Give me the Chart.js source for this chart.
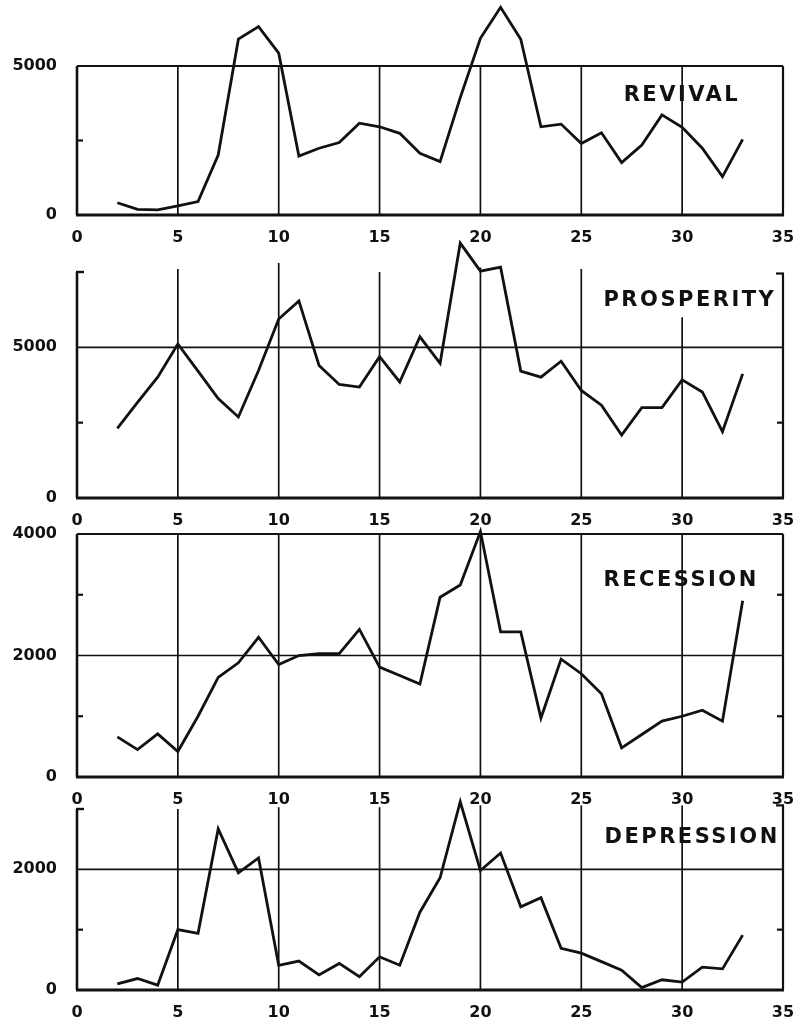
<!DOCTYPE html>
<html>
<head>
<meta charset="utf-8">
<title>Revival, Prosperity, Recession, Depression</title>
<script src="https://cdn.jsdelivr.net/npm/chart.js@4.4.1/dist/chart.umd.min.js"></script>
<style>
  html, body { margin: 0; padding: 0; background: #fff; }
  #wrap { position: relative; width: 799px; height: 1023px; }
  #wrap canvas { position: absolute; left: 0; top: 0; }
</style>
</head>
<body>
<div id="wrap">
  <canvas id="revival" width="799" height="1023"></canvas>
  <canvas id="prosperity" width="799" height="1023"></canvas>
  <canvas id="recession" width="799" height="1023"></canvas>
  <canvas id="depression" width="799" height="1023"></canvas>
</div>
<script>
// x positions of the readings (same for every panel)
const xValues = [2, 3, 4, 5, 6, 7, 8, 9, 10, 11, 12, 13, 14, 15, 16, 17,
                 18, 19, 20, 21, 22, 23, 24, 25, 26, 27, 28, 29, 30, 31, 32, 33];

const revival = [410, 190, 170, 310, 450, 2010, 5900, 6320, 5430, 1980, 2240, 2430, 3080, 2960, 2740, 2070,
                 1790, 3940, 5930, 6970, 5900, 2960, 3050, 2400, 2760, 1760, 2350, 3360, 2940, 2240, 1290, 2540];

const prosperity = [2310, 3170, 4010, 5110, 4210, 3300, 2690, 4230, 5940, 6540, 4400, 3770, 3680, 4690, 3850, 5350,
                    4470, 8460, 7530, 7660, 4210, 4010, 4540, 3570, 3080, 2090, 3000, 3000, 3920, 3520, 2200, 4120];

const recession = [660, 450, 710, 420, 1000, 1640, 1880, 2300, 1850, 2000, 2030, 2030, 2430, 1810, 1670, 1530,
                   2960, 3160, 4040, 2390, 2390, 970, 1940, 1700, 1370, 480, 700, 920, 1000, 1100, 920, 2900];

const depression = [100, 190, 80, 1000, 940, 2670, 1940, 2190, 410, 480, 250, 440, 220, 550, 410, 1290,
                    1860, 3120, 1980, 2270, 1380, 1530, 690, 610, 470, 330, 40, 170, 130, 380, 350, 910];

// tick labels on the y axes
const revivalTicks = [0, 5000];
const prosperityTicks = [0, 5000];
const recessionTicks = [0, 2000, 4000];
const depressionTicks = [0, 2000];

const INK = '#111';
const AREA_LEFT = 77;
const AREA_RIGHT = 783;
const X_AXIS_H = 34;

// Draws the hand-ruled frame, grid and panel title through the chart scales
const framePlugin = {
    id: 'frame',
    beforeDatasetsDraw(chart, args, opts) {
        const { ctx } = chart;
        const xs = chart.scales.x, ys = chart.scales.y;
        const X = v => xs.getPixelForValue(v);
        const Y = v => ys.getPixelForValue(v);
        const yMax = ys.max;
        ctx.save();
        ctx.strokeStyle = INK;
        ctx.lineCap = 'butt';

        const line = (x1, y1, x2, y2, w) => {
            ctx.lineWidth = w;
            ctx.beginPath();
            ctx.moveTo(x1, y1);
            ctx.lineTo(x2, y2);
            ctx.stroke();
        };

        // vertical rulings
        (opts.vlines || []).forEach(([xv, top]) => line(X(xv), Y(0), X(xv), Y(top), 1.7));
        // horizontal rulings
        (opts.hlines || []).forEach(yv => line(X(0), Y(yv), X(35), Y(yv), 1.7));

        // frame
        line(X(0) - 1, Y(0), X(35) + 1, Y(0), 2.8);
        line(X(0), Y(0), X(0), Y(opts.leftTop), 2.6);
        line(X(35), Y(0), X(35), Y(opts.rightTop), 2.2);
        if (opts.top) line(X(0), Y(yMax), X(35), Y(yMax), 2.2);
        if (opts.hooks) {
            line(X(0) - 1, Y(opts.leftTop), X(0) + 7, Y(opts.leftTop), 2.4);
            line(X(35) - 7, Y(opts.rightTop), X(35) + 1, Y(opts.rightTop), 2.2);
        }
        // minor ticks on the borders
        (opts.leftTicks || []).forEach(v => line(X(0), Y(v), X(0) + 6, Y(v), 2.2));
        (opts.rightTicks || []).forEach(v => line(X(35) - 6, Y(v), X(35), Y(v), 2.2));

        ctx.restore();
    },
    afterDraw(chart, args, opts) {
        if (!opts.title) return;
        const { ctx } = chart;
        const [text, tx, ty] = opts.title;
        ctx.save();
        ctx.fillStyle = INK;
        ctx.font = 'bold 21px "DejaVu Sans"';
        ctx.letterSpacing = '2.5px';
        ctx.textAlign = 'left';
        ctx.textBaseline = 'middle';
        ctx.fillText(text, chart.scales.x.getPixelForValue(tx), chart.scales.y.getPixelForValue(ty));
        ctx.restore();
    }
};

const tickFont = { family: '"DejaVu Sans"', size: 16, weight: 'bold' };

function makePanel(canvasId, values, yMax, yTicks, top, bottom, frame) {
    const canvas = document.getElementById(canvasId);
    return new Chart(canvas, {
        type: 'line',
        data: {
            datasets: [{
                data: xValues.map((x, i) => ({ x, y: values[i] })),
                borderColor: INK,
                borderWidth: 2.8,
                borderJoinStyle: 'miter',
                pointRadius: 0,
                tension: 0,
                fill: false,
                clip: false,
            }]
        },
        options: {
            responsive: false,
            animation: false,
            devicePixelRatio: 1,
            layout: {
                padding: { left: 0, right: 799 - AREA_RIGHT, top: top, bottom: 1023 - bottom - X_AXIS_H }
            },
            plugins: {
                legend: { display: false },
                tooltip: { enabled: false },
                frame: frame,
            },
            scales: {
                x: {
                    type: 'linear',
                    min: 0,
                    max: 35,
                    grid: { display: false, drawTicks: false },
                    border: { display: false },
                    ticks: { stepSize: 5, padding: 13, color: INK, font: tickFont, maxRotation: 0 },
                    afterFit: s => {
                        s.height = X_AXIS_H;
                        s.paddingLeft = 0;
                        s.paddingRight = 0;
                    },
                },
                y: {
                    type: 'linear',
                    min: 0,
                    max: yMax,
                    grid: { display: false, drawTicks: false },
                    border: { display: false },
                    afterBuildTicks: s => { s.ticks = yTicks.map(v => ({ value: v })); },
                    ticks: { padding: 20, color: INK, font: tickFont, callback: v => String(v) },
                    afterFit: s => { s.width = AREA_LEFT; },
                }
            }
        },
        plugins: [framePlugin]
    });
}

makePanel('revival', revival, 5000, revivalTicks, 66, 215, {
    vlines: [[5, 5000], [10, 5000], [15, 5000], [20, 5000], [25, 5000], [30, 5000]],
    leftTop: 5000, rightTop: 5000, top: true,
    leftTicks: [2500],
    title: ['REVIVAL', 27.1, 4010],
});

makePanel('prosperity', prosperity, 7500, prosperityTicks, 272, 498, {
    vlines: [[5, 7600], [10, 7800], [15, 7500], [20, 7650], [25, 7600], [30, 6000]],
    hlines: [5000],
    leftTop: 7500, rightTop: 7450, hooks: true,
    leftTicks: [2500], rightTicks: [2500],
    title: ['PROSPERITY', 26.1, 6554],
});

makePanel('recession', recession, 4000, recessionTicks, 534, 777, {
    vlines: [[5, 4000], [10, 4000], [15, 4000], [20, 4000], [25, 4000], [30, 4000]],
    hlines: [2000],
    leftTop: 4000, rightTop: 4000, top: true,
    leftTicks: [1000, 3000], rightTicks: [1000, 3000],
    title: ['RECESSION', 26.1, 3226],
});

makePanel('depression', depression, 3000, depressionTicks, 809, 990, {
    vlines: [[5, 3000], [10, 3030], [15, 3030], [20, 3060], [25, 3060], [30, 3060]],
    hlines: [2000],
    leftTop: 3000, rightTop: 3060, hooks: true,
    leftTicks: [1000], rightTicks: [1000],
    title: ['DEPRESSION', 26.15, 2519],
});
</script>
</body>
</html>
